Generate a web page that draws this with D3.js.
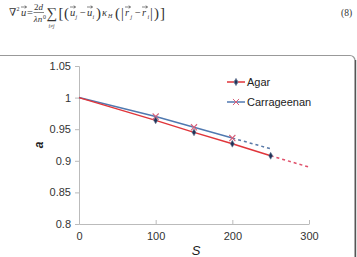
<!DOCTYPE html>
<html>
<head>
<meta charset="utf-8">
<script src="https://cdn.jsdelivr.net/npm/d3@7"></script>
<style>
  body { margin: 0; background: #fff; }
  svg { display: block; }
</style>
</head>
<body>
<div id="chart"></div>
<script>
// values
const sValues = [0, 100, 150, 200, 250];
const agarValues = [1, 0.964, 0.945, 0.927, 0.908];
const carrS = [0, 100, 150, 200];
const carrValues = [1, 0.970, 0.953, 0.936];
// dashed extrapolations
const agarTrend = [[250, 0.908], [300, 0.890]];
const carrTrend = [[200, 0.936], [250, 0.919]];
const xTicks = [0, 100, 200, 300];
const yTicks = [0.8, 0.85, 0.9, 0.95, 1, 1.05];

const W = 357, H = 257;
const svg = d3.select("#chart").append("svg").attr("width", W).attr("height", H);

// ---- equation (8) above the chart ----
const eq = svg.append("g").attr("font-family", "'Liberation Serif', 'DejaVu Serif', serif")
  .attr("fill", "#333");
function t(x, y, s, size, italic, anchor) {
  return eq.append("text").attr("x", x).attr("y", y).text(s)
    .attr("font-size", size || 10.5)
    .attr("font-style", italic ? "italic" : null)
    .attr("text-anchor", anchor || "start");
}
// little arrow drawn over a vector letter
function arrow(x1, x2, yy) {
  eq.append("path").attr("d", `M${x1},${yy}H${x2}M${x2 - 1.8},${yy - 1.3}L${x2},${yy}L${x2 - 1.8},${yy + 1.3}`)
    .attr("fill", "none").attr("stroke", "#333").attr("stroke-width", 0.6);
}
function vec(x, y, letter, sub) {
  t(x, y, letter, 10.5, true);
  arrow(x, x + 5.5, y - 9);
  if (sub) t(x + 5.5, y + 2.5, sub, 6, true);
}
const by = 16;
t(9, by, "\u2207", 10.5);
t(16.5, by - 5, "2", 6);
vec(21, by, "u");
t(27, by, "=", 10.5);
t(38.5, 10, "2", 9, false, "end");
t(38.5, 10, "d", 9, true);
eq.append("line").attr("x1", 33.5).attr("x2", 44).attr("y1", 12.5).attr("y2", 12.5)
  .attr("stroke", "#333").attr("stroke-width", 0.6);
t(38, 22, "\u03bbn", 9, true, "middle");
t(43, 19, "0", 6);
t(51.5, 18, "\u2211", 15, false, "middle");
t(51.5, 27.5, "i\u2260j", 5.5, true, "middle");
t(58.5, 18, "[", 15);
t(64, 18, "(", 15);
vec(70, by, "u", "j");
t(80, by, "\u2212", 10.5);
vec(87, by, "u", "i");
t(96, 18, ")", 15);
t(102, by, "\u03ba", 10.5, true);
t(108, by + 2, "H", 6, true);
t(115, 18, "(", 15);
t(121, 18, "|", 14);
vec(125, by, "r", "j");
t(135, by, "\u2212", 10.5);
vec(142, by, "r", "i");
t(150, 18, "|", 14);
t(154, 18, ")", 15);
t(160, 18, "]", 15);
t(341, 16, "(8)", 9.5);

// ---- chart frame ----
svg.append("rect").attr("x", -5).attr("y", 55.5).attr("width", 360).attr("height", 230)
  .attr("rx", 5).attr("fill", "#fff").attr("stroke", "#999").attr("stroke-width", 1.2);
svg.append("line").attr("x1", 355.5).attr("x2", 355.5).attr("y1", 60).attr("y2", H)
  .attr("stroke", "#555").attr("stroke-width", 1.4);

const x = d3.scaleLinear().domain([0, 300]).range([79, 309]);
const y = d3.scaleLinear().domain([0.8, 1.05]).range([224, 66]);

const fmtY = d => d === 1 ? "1" : d3.format(".2~f")(d);

const gy = svg.append("g").attr("transform", `translate(${x(0)},0)`)
  .call(d3.axisLeft(y).tickValues(yTicks).tickFormat(fmtY).tickSize(4).tickPadding(4));
const gx = svg.append("g").attr("transform", `translate(0,${y(0.8)})`)
  .call(d3.axisBottom(x).tickValues(xTicks).tickSize(0).tickPadding(8));
gx.selectAll(".tick").append("line").attr("y2", -4).attr("stroke", "#bbb");
[gx, gy].forEach(g => {
  g.select(".domain").attr("stroke", "#bbb");
  g.selectAll(".tick line").attr("stroke", "#bbb");
  g.selectAll("text").attr("font-family", "'Liberation Sans', Arial, sans-serif")
    .attr("font-size", 11).attr("fill", "#333");
});

// axis titles
svg.append("text").attr("x", 196).attr("y", 255).attr("text-anchor", "middle")
  .attr("font-family", "'Liberation Sans', Arial, sans-serif").attr("font-style", "italic")
  .attr("font-size", 13).attr("fill", "#222").text("S");
svg.append("text").attr("transform", `translate(43,145) rotate(-90)`).attr("text-anchor", "middle")
  .attr("font-family", "'Liberation Sans', Arial, sans-serif").attr("font-style", "italic")
  .attr("font-weight", "bold").attr("font-size", 12).attr("fill", "#222").text("a");

// ---- series ----
const agarCol = "#e0353a", carrCol = "#5079b0";
const agar = sValues.map((s, i) => [s, agarValues[i]]);
const carr = carrS.map((s, i) => [s, carrValues[i]]);
const line = d3.line().x(d => x(d[0])).y(d => y(d[1]));

svg.append("path").datum(agarTrend).attr("d", line).attr("fill", "none")
  .attr("stroke", "#e0506a").attr("stroke-width", 1.5).attr("stroke-dasharray", "3,3");
svg.append("path").datum(carrTrend).attr("d", line).attr("fill", "none")
  .attr("stroke", "#5a7aa8").attr("stroke-width", 1.5).attr("stroke-dasharray", "3,3");
svg.append("path").datum(carr).attr("d", line).attr("fill", "none")
  .attr("stroke", carrCol).attr("stroke-width", 1.5);
svg.append("path").datum(agar).attr("d", line).attr("fill", "none")
  .attr("stroke", agarCol).attr("stroke-width", 1.5);

const diamond = d3.symbol().type(d3.symbolDiamond).size(14);
const cross = d3.symbol().type(d3.symbolX).size(26);

svg.selectAll("path.cx").data(carr.filter(d => d[0] > 0)).join("path").attr("class", "cx")
  .attr("d", cross).attr("transform", d => `translate(${x(d[0])},${y(d[1])})`)
  .attr("fill", "none").attr("stroke", "#d8607a").attr("stroke-width", 1.1);
svg.selectAll("path.dm").data(agar.filter(d => d[0] > 0)).join("path").attr("class", "dm")
  .attr("d", diamond).attr("transform", d => `translate(${x(d[0])},${y(d[1])})`)
  .attr("fill", "#1f3358").attr("stroke", "#6a7a96").attr("stroke-width", 0.6);

// ---- legend ----
const legend = [
  { name: "Agar", col: agarCol, sym: diamond, fill: "#1f3358", stroke: "#6a7a96", y: 82 },
  { name: "Carrageenan", col: carrCol, sym: cross, fill: "none", stroke: "#d8607a", y: 102 }
];
const lg = svg.selectAll("g.lg").data(legend).join("g").attr("class", "lg")
  .attr("transform", d => `translate(227,${d.y})`);
lg.append("line").attr("x2", 18).attr("stroke", d => d.col).attr("stroke-width", 1.5);
lg.append("path").attr("d", d => d.sym()).attr("transform", "translate(9,0)")
  .attr("fill", d => d.fill).attr("stroke", d => d.stroke).attr("stroke-width", 1);
lg.append("text").attr("x", 20).attr("y", 4).text(d => d.name)
  .attr("font-family", "'Liberation Sans', Arial, sans-serif").attr("font-size", 11).attr("fill", "#222");
</script>
</body>
</html>
